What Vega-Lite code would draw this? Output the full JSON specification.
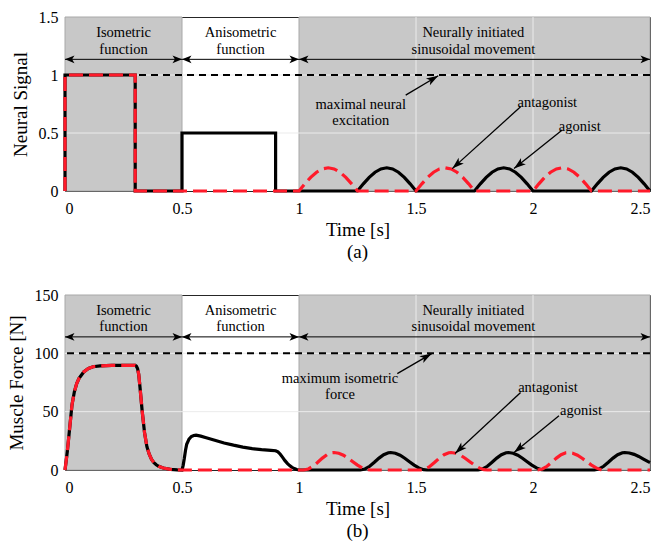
{
"$schema": "https://vega.github.io/schema/vega-lite/v6.json",
"padding": {"left": 6, "top": 8, "right": 0, "bottom": 0},
"spacing": 23,
"config": {
  "font": "Liberation Serif",
  "view": {"stroke": "#262626", "strokeWidth": 1},
  "axis": {"labelFont": "Liberation Serif", "titleFont": "Liberation Serif", "labelFontSize": 16, "labelColor": "#000000", "titleFontSize": 19, "titleColor": "#000000", "titleFontWeight": "normal", "ticks": false, "grid": false, "domainColor": "#262626"},
  "title": {"font": "Liberation Serif", "fontSize": 19, "fontWeight": "normal", "color": "#000000"}
},
"datasets": {
  "na": [{"t":0,"v":0},{"t":0,"v":1},{"t":0.3,"v":1},{"t":0.3,"v":0},{"t":0.5,"v":0},{"t":0.5,"v":0.5},{"t":0.9,"v":0.5},{"t":0.9,"v":0},{"t":1.25,"v":0},{"t":1.275,"v":0.062},{"t":1.3,"v":0.118},{"t":1.325,"v":0.162},{"t":1.35,"v":0.19},{"t":1.375,"v":0.2},{"t":1.4,"v":0.19},{"t":1.425,"v":0.162},{"t":1.45,"v":0.118},{"t":1.475,"v":0.062},{"t":1.5,"v":0},{"t":1.75,"v":0},{"t":1.775,"v":0.062},{"t":1.8,"v":0.118},{"t":1.825,"v":0.162},{"t":1.85,"v":0.19},{"t":1.875,"v":0.2},{"t":1.9,"v":0.19},{"t":1.925,"v":0.162},{"t":1.95,"v":0.118},{"t":1.975,"v":0.062},{"t":2,"v":0},{"t":2.25,"v":0},{"t":2.275,"v":0.062},{"t":2.3,"v":0.118},{"t":2.325,"v":0.162},{"t":2.35,"v":0.19},{"t":2.375,"v":0.2},{"t":2.4,"v":0.19},{"t":2.425,"v":0.162},{"t":2.45,"v":0.118},{"t":2.475,"v":0.062},{"t":2.5,"v":0}],
  "nn": [{"t":0,"v":0},{"t":0,"v":1},{"t":0.3,"v":1},{"t":0.3,"v":0},{"t":1,"v":0},{"t":1.025,"v":0.062},{"t":1.05,"v":0.118},{"t":1.075,"v":0.162},{"t":1.1,"v":0.19},{"t":1.125,"v":0.2},{"t":1.15,"v":0.19},{"t":1.175,"v":0.162},{"t":1.2,"v":0.118},{"t":1.225,"v":0.062},{"t":1.25,"v":0},{"t":1.5,"v":0},{"t":1.525,"v":0.062},{"t":1.55,"v":0.118},{"t":1.575,"v":0.162},{"t":1.6,"v":0.19},{"t":1.625,"v":0.2},{"t":1.65,"v":0.19},{"t":1.675,"v":0.162},{"t":1.7,"v":0.118},{"t":1.725,"v":0.062},{"t":1.75,"v":0},{"t":2,"v":0},{"t":2.025,"v":0.062},{"t":2.05,"v":0.118},{"t":2.075,"v":0.162},{"t":2.1,"v":0.19},{"t":2.125,"v":0.2},{"t":2.15,"v":0.19},{"t":2.175,"v":0.162},{"t":2.2,"v":0.118},{"t":2.225,"v":0.062},{"t":2.25,"v":0},{"t":2.5,"v":0}],
  "fa": [{"t":0,"v":0},{"t":0.01,"v":16},{"t":0.02,"v":36},{"t":0.03,"v":56},{"t":0.04,"v":67},{"t":0.05,"v":74},{"t":0.06,"v":78.5},{"t":0.08,"v":84},{"t":0.1,"v":87},{"t":0.12,"v":88.5},{"t":0.15,"v":89.3},{"t":0.2,"v":89.6},{"t":0.3,"v":89.6},{"t":0.305,"v":89},{"t":0.31,"v":87},{"t":0.315,"v":82},{"t":0.32,"v":72},{"t":0.33,"v":50},{"t":0.34,"v":32},{"t":0.35,"v":20},{"t":0.36,"v":13.5},{"t":0.37,"v":9},{"t":0.38,"v":6.3},{"t":0.39,"v":4.5},{"t":0.4,"v":3.2},{"t":0.42,"v":1.7},{"t":0.45,"v":0.6},{"t":0.48,"v":0.15},{"t":0.5,"v":0},{"t":0.505,"v":4},{"t":0.51,"v":10},{"t":0.515,"v":17},{"t":0.52,"v":22},{"t":0.53,"v":26.5},{"t":0.54,"v":28.7},{"t":0.55,"v":29.6},{"t":0.56,"v":29.8},{"t":0.58,"v":29},{"t":0.6,"v":27.8},{"t":0.64,"v":25.5},{"t":0.68,"v":23.2},{"t":0.72,"v":21.3},{"t":0.76,"v":19.6},{"t":0.8,"v":18.3},{"t":0.84,"v":17.4},{"t":0.88,"v":16.9},{"t":0.9,"v":16.5},{"t":0.91,"v":15.6},{"t":0.92,"v":13.5},{"t":0.93,"v":10.8},{"t":0.94,"v":8},{"t":0.95,"v":5.7},{"t":0.96,"v":3.8},{"t":0.97,"v":2.3},{"t":0.98,"v":1.2},{"t":0.99,"v":0.4},{"t":1,"v":0},{"t":1.262,"v":0},{"t":1.282,"v":0.9},{"t":1.302,"v":3.2},{"t":1.322,"v":6.6},{"t":1.342,"v":10.2},{"t":1.362,"v":13.1},{"t":1.382,"v":14.8},{"t":1.392,"v":15},{"t":1.412,"v":14.4},{"t":1.432,"v":12.7},{"t":1.452,"v":10.1},{"t":1.472,"v":7.1},{"t":1.492,"v":4.2},{"t":1.512,"v":1.8},{"t":1.532,"v":0.3},{"t":1.547,"v":0},{"t":1.765,"v":0},{"t":1.785,"v":0.9},{"t":1.805,"v":3.2},{"t":1.825,"v":6.6},{"t":1.845,"v":10.2},{"t":1.865,"v":13.1},{"t":1.885,"v":14.8},{"t":1.895,"v":15},{"t":1.915,"v":14.4},{"t":1.935,"v":12.7},{"t":1.955,"v":10.1},{"t":1.975,"v":7.1},{"t":1.995,"v":4.2},{"t":2.015,"v":1.8},{"t":2.035,"v":0.3},{"t":2.05,"v":0},{"t":2.262,"v":0},{"t":2.282,"v":0.9},{"t":2.302,"v":3.2},{"t":2.322,"v":6.6},{"t":2.342,"v":10.2},{"t":2.362,"v":13.1},{"t":2.382,"v":14.8},{"t":2.392,"v":15},{"t":2.412,"v":14.6},{"t":2.432,"v":13.4},{"t":2.452,"v":11.6},{"t":2.472,"v":9.4},{"t":2.492,"v":7.2},{"t":2.5,"v":6.5}],
  "fn": [{"t":0,"v":0},{"t":0.01,"v":16},{"t":0.02,"v":36},{"t":0.03,"v":56},{"t":0.04,"v":67},{"t":0.05,"v":74},{"t":0.06,"v":78.5},{"t":0.08,"v":84},{"t":0.1,"v":87},{"t":0.12,"v":88.5},{"t":0.15,"v":89.3},{"t":0.2,"v":89.6},{"t":0.3,"v":89.6},{"t":0.305,"v":89},{"t":0.31,"v":87},{"t":0.315,"v":82},{"t":0.32,"v":72},{"t":0.33,"v":50},{"t":0.34,"v":32},{"t":0.35,"v":20},{"t":0.36,"v":13.5},{"t":0.37,"v":9},{"t":0.38,"v":6.3},{"t":0.39,"v":4.5},{"t":0.4,"v":3.2},{"t":0.42,"v":1.7},{"t":0.45,"v":0.6},{"t":0.48,"v":0.15},{"t":0.5,"v":0},{"t":1.02,"v":0},{"t":1.04,"v":0.9},{"t":1.06,"v":3.2},{"t":1.08,"v":6.6},{"t":1.1,"v":10.2},{"t":1.12,"v":13.1},{"t":1.14,"v":14.8},{"t":1.15,"v":15},{"t":1.17,"v":14.4},{"t":1.19,"v":12.7},{"t":1.21,"v":10.1},{"t":1.23,"v":7.1},{"t":1.25,"v":4.2},{"t":1.27,"v":1.8},{"t":1.29,"v":0.3},{"t":1.305,"v":0},{"t":1.52,"v":0},{"t":1.54,"v":0.9},{"t":1.56,"v":3.2},{"t":1.58,"v":6.6},{"t":1.6,"v":10.2},{"t":1.62,"v":13.1},{"t":1.64,"v":14.8},{"t":1.65,"v":15},{"t":1.67,"v":14.4},{"t":1.69,"v":12.7},{"t":1.71,"v":10.1},{"t":1.73,"v":7.1},{"t":1.75,"v":4.2},{"t":1.77,"v":1.8},{"t":1.79,"v":0.3},{"t":1.805,"v":0},{"t":2.02,"v":0},{"t":2.04,"v":0.9},{"t":2.06,"v":3.2},{"t":2.08,"v":6.6},{"t":2.1,"v":10.2},{"t":2.12,"v":13.1},{"t":2.14,"v":14.8},{"t":2.15,"v":15},{"t":2.17,"v":14.4},{"t":2.19,"v":12.7},{"t":2.21,"v":10.1},{"t":2.23,"v":7.1},{"t":2.25,"v":4.2},{"t":2.27,"v":1.8},{"t":2.29,"v":0.3},{"t":2.305,"v":0},{"t":2.5,"v":0}],
  "regions": [{"start":0,"end":0.5},{"start":1,"end":2.5}],
  "gridT": [{"t":1.5},{"t":2}],
  "spans": [{"a":0,"b":0.5},{"a":0.5,"b":1},{"a":1,"b":2.5}],
  "heads": [{"t":0,"dir":"left"},{"t":0.5,"dir":"right"},{"t":0.5,"dir":"left"},{"t":1,"dir":"right"},{"t":1,"dir":"left"},{"t":2.5,"dir":"right"}]
},
"vconcat": [
{
  "width": 585, "height": 174,
  "title": {"text": "(a)", "orient": "bottom", "offset": 4, "frame": "group"},
  "layer": [
    {"data": {"name": "regions"}, "mark": {"type": "rect", "color": "#c8c8c8", "stroke": "#a8a8a8", "strokeWidth": 1},
     "encoding": {"x": {"field": "start", "type": "quantitative", "scale": {"domain": [0, 2.5], "nice": false},
        "axis": {"title": "Time [s]", "values": [0, 0.5, 1, 1.5, 2, 2.5], "format": "~r", "labelPadding": 9, "titlePadding": 4}},
        "x2": {"field": "end"}}},
    {"data": {"name": "gridT"}, "mark": {"type": "rule", "color": "#ebebeb", "strokeWidth": 1},
     "encoding": {"x": {"field": "t", "type": "quantitative"}}},
    {"data": {"values": [{"v": 0.5}, {"v": 1}]}, "mark": {"type": "rule", "color": "#ebebeb", "strokeWidth": 1},
     "encoding": {"y": {"field": "v", "type": "quantitative"}}},
    {"data": {"values": [{"level": 1}]}, "mark": {"type": "rule", "color": "#000000", "strokeWidth": 2, "strokeDash": [7, 5]},
     "encoding": {"y": {"field": "level", "type": "quantitative"}}},
    {"data": {"name": "na"}, "mark": {"type": "line", "color": "#000000", "strokeWidth": 3.2},
     "encoding": {"x": {"field": "t", "type": "quantitative"},
        "y": {"field": "v", "type": "quantitative", "scale": {"domain": [0, 1.5], "nice": false},
          "axis": {"title": "Neural Signal", "values": [0, 0.5, 1, 1.5], "format": "~r", "labelPadding": 7, "titlePadding": 8}},
        "order": {"value": null}}},
    {"data": {"name": "nn"}, "mark": {"type": "line", "color": "#ff1a2a", "strokeWidth": 3.2, "strokeDash": [14, 6]},
     "encoding": {"x": {"field": "t", "type": "quantitative"}, "y": {"field": "v", "type": "quantitative"}, "order": {"value": null}}},
    {"data": {"name": "spans"}, "mark": {"type": "rule", "color": "#000000", "strokeWidth": 1},
     "encoding": {"x": {"field": "a", "type": "quantitative"}, "x2": {"field": "b"}, "y": {"datum": 1.135}}},
    {"data": {"name": "heads"}, "mark": {"type": "point", "filled": true, "color": "#000000", "opacity": 1, "size": 90},
     "encoding": {"x": {"field": "t", "type": "quantitative"}, "y": {"datum": 1.135},
        "shape": {"field": "dir", "type": "nominal", "legend": null, "scale": {"domain": ["left", "right"], "range": ["M0,0L2,-0.8L1.5,0L2,0.8Z", "M0,0L-2,-0.8L-1.5,0L-2,0.8Z"]}}}},
    {"data": {"values": [{"t": 0.25, "v": 1.36, "label": ["Isometric", "function"]}, {"t": 0.75, "v": 1.36, "label": ["Anisometric", "function"]}, {"t": 1.745, "v": 1.36, "label": ["Neurally initiated", "sinusoidal movement"]}, {"t": 1.264, "v": 0.742, "label": ["maximal neural", "excitation"]}, {"t": 2.061, "v": 0.755, "label": "antagonist"}, {"t": 2.2, "v": 0.553, "label": "agonist"}]},
     "mark": {"type": "text", "font": "Liberation Serif", "fontSize": 14.5, "lineHeight": 16.5, "align": "center", "baseline": "middle", "color": "#000000"},
     "encoding": {"x": {"field": "t", "type": "quantitative"}, "y": {"field": "v", "type": "quantitative"}, "text": {"field": "label"}}},
    {"data": {"values": [{"t": 1.456, "v": 0.827, "t2": 1.595, "v2": 0.994}, {"t": 1.947, "v": 0.726, "t2": 1.655, "v2": 0.193}, {"t": 2.125, "v": 0.525, "t2": 1.919, "v2": 0.193}]},
     "mark": {"type": "rule", "color": "#000000", "strokeWidth": 1.3},
     "encoding": {"x": {"field": "t", "type": "quantitative"}, "y": {"field": "v", "type": "quantitative"}, "x2": {"field": "t2"}, "y2": {"field": "v2"}}},
    {"data": {"values": [{"t": 1.595, "v": 0.994}]}, "mark": {"type": "point", "filled": true, "color": "#000000", "opacity": 1, "size": 144, "angle": -30.6, "shape": "M0,0L-2,-0.65L-1.5,0L-2,0.65Z"},
     "encoding": {"x": {"field": "t", "type": "quantitative"}, "y": {"field": "v", "type": "quantitative"}}},
    {"data": {"values": [{"t": 1.655, "v": 0.193}]}, "mark": {"type": "point", "filled": true, "color": "#000000", "opacity": 1, "size": 144, "angle": 138, "shape": "M0,0L-2,-0.65L-1.5,0L-2,0.65Z"},
     "encoding": {"x": {"field": "t", "type": "quantitative"}, "y": {"field": "v", "type": "quantitative"}}},
    {"data": {"values": [{"t": 1.919, "v": 0.193}]}, "mark": {"type": "point", "filled": true, "color": "#000000", "opacity": 1, "size": 144, "angle": 141.5, "shape": "M0,0L-2,-0.65L-1.5,0L-2,0.65Z"},
     "encoding": {"x": {"field": "t", "type": "quantitative"}, "y": {"field": "v", "type": "quantitative"}}}
  ]
},
{
  "width": 585, "height": 175,
  "title": {"text": "(b)", "orient": "bottom", "offset": 4, "frame": "group"},
  "layer": [
    {"data": {"name": "regions"}, "mark": {"type": "rect", "color": "#c8c8c8", "stroke": "#a8a8a8", "strokeWidth": 1},
     "encoding": {"x": {"field": "start", "type": "quantitative", "scale": {"domain": [0, 2.5], "nice": false},
        "axis": {"title": "Time [s]", "values": [0, 0.5, 1, 1.5, 2, 2.5], "format": "~r", "labelPadding": 9, "titlePadding": 4}},
        "x2": {"field": "end"}}},
    {"data": {"name": "gridT"}, "mark": {"type": "rule", "color": "#ebebeb", "strokeWidth": 1},
     "encoding": {"x": {"field": "t", "type": "quantitative"}}},
    {"data": {"values": [{"v": 50}, {"v": 100}]}, "mark": {"type": "rule", "color": "#ebebeb", "strokeWidth": 1},
     "encoding": {"y": {"field": "v", "type": "quantitative"}}},
    {"data": {"values": [{"level": 100}]}, "mark": {"type": "rule", "color": "#000000", "strokeWidth": 2, "strokeDash": [7, 5]},
     "encoding": {"y": {"field": "level", "type": "quantitative"}}},
    {"data": {"name": "fa"}, "mark": {"type": "line", "color": "#000000", "strokeWidth": 3.2},
     "encoding": {"x": {"field": "t", "type": "quantitative"},
        "y": {"field": "v", "type": "quantitative", "scale": {"domain": [0, 150], "nice": false},
          "axis": {"title": "Muscle Force [N]", "values": [0, 50, 100, 150], "format": "~r", "labelPadding": 7, "titlePadding": 8}},
        "order": {"value": null}}},
    {"data": {"name": "fn"}, "mark": {"type": "line", "color": "#ff1a2a", "strokeWidth": 3.2, "strokeDash": [14, 6]},
     "encoding": {"x": {"field": "t", "type": "quantitative"}, "y": {"field": "v", "type": "quantitative"}, "order": {"value": null}}},
    {"data": {"name": "spans"}, "mark": {"type": "rule", "color": "#000000", "strokeWidth": 1},
     "encoding": {"x": {"field": "a", "type": "quantitative"}, "x2": {"field": "b"}, "y": {"datum": 114.1}}},
    {"data": {"name": "heads"}, "mark": {"type": "point", "filled": true, "color": "#000000", "opacity": 1, "size": 90},
     "encoding": {"x": {"field": "t", "type": "quantitative"}, "y": {"datum": 114.1},
        "shape": {"field": "dir", "type": "nominal", "legend": null, "scale": {"domain": ["left", "right"], "range": ["M0,0L2,-0.8L1.5,0L2,0.8Z", "M0,0L-2,-0.8L-1.5,0L-2,0.8Z"]}}}},
    {"data": {"values": [{"t": 0.25, "v": 136.3, "label": ["Isometric", "function"]}, {"t": 0.75, "v": 136.3, "label": ["Anisometric", "function"]}, {"t": 1.745, "v": 136.3, "label": ["Neurally initiated", "sinusoidal movement"]}, {"t": 1.175, "v": 78.4, "label": ["maximum isometric", "force"]}, {"t": 2.064, "v": 70.2, "label": "antagonist"}, {"t": 2.205, "v": 50.7, "label": "agonist"}]},
     "mark": {"type": "text", "font": "Liberation Serif", "fontSize": 14.5, "lineHeight": 16.5, "align": "center", "baseline": "middle", "color": "#000000"},
     "encoding": {"x": {"field": "t", "type": "quantitative"}, "y": {"field": "v", "type": "quantitative"}, "text": {"field": "label"}}},
    {"data": {"values": [{"t": 1.42, "v": 82.6, "t2": 1.567, "v2": 99.8}, {"t": 1.947, "v": 66.4, "t2": 1.667, "v2": 14.2}, {"t": 2.111, "v": 46.5, "t2": 1.919, "v2": 15}]},
     "mark": {"type": "rule", "color": "#000000", "strokeWidth": 1.3},
     "encoding": {"x": {"field": "t", "type": "quantitative"}, "y": {"field": "v", "type": "quantitative"}, "x2": {"field": "t2"}, "y2": {"field": "v2"}}},
    {"data": {"values": [{"t": 1.567, "v": 99.8}]}, "mark": {"type": "point", "filled": true, "color": "#000000", "opacity": 1, "size": 144, "angle": -30.2, "shape": "M0,0L-2,-0.65L-1.5,0L-2,0.65Z"},
     "encoding": {"x": {"field": "t", "type": "quantitative"}, "y": {"field": "v", "type": "quantitative"}}},
    {"data": {"values": [{"t": 1.667, "v": 14.2}]}, "mark": {"type": "point", "filled": true, "color": "#000000", "opacity": 1, "size": 144, "angle": 137.1, "shape": "M0,0L-2,-0.65L-1.5,0L-2,0.65Z"},
     "encoding": {"x": {"field": "t", "type": "quantitative"}, "y": {"field": "v", "type": "quantitative"}}},
    {"data": {"values": [{"t": 1.919, "v": 15}]}, "mark": {"type": "point", "filled": true, "color": "#000000", "opacity": 1, "size": 144, "angle": 140.8, "shape": "M0,0L-2,-0.65L-1.5,0L-2,0.65Z"},
     "encoding": {"x": {"field": "t", "type": "quantitative"}, "y": {"field": "v", "type": "quantitative"}}}
  ]
}
]
}
